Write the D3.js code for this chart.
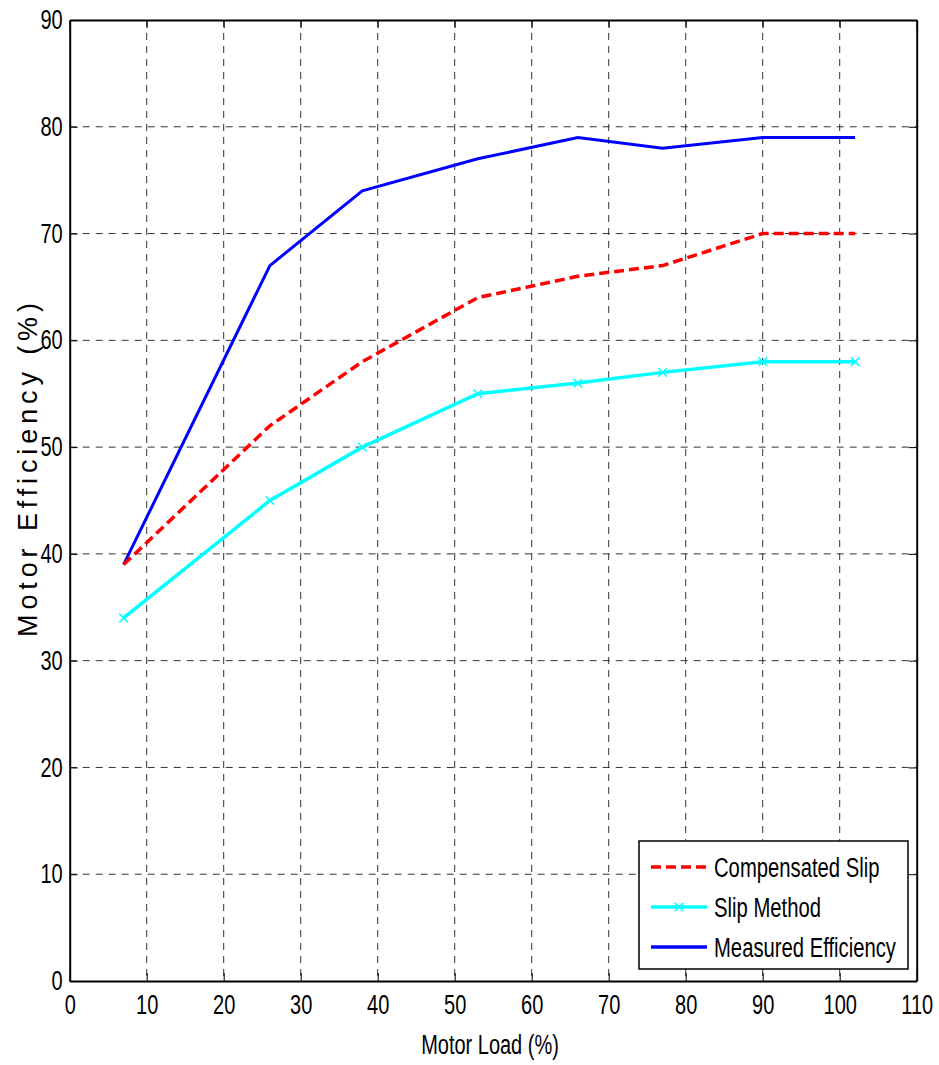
<!DOCTYPE html>
<html>
<head>
<meta charset="utf-8">
<script src="https://cdn.jsdelivr.net/npm/d3@7"></script>
<style>
  body { margin: 0; background: #fff; }
  text { font-family: "Liberation Sans", Arial, sans-serif; fill: #000; }
</style>
</head>
<body>
<svg id="chart" width="939" height="1065"></svg>
<script>
// DATA
var loads = [7, 26, 38, 53, 66, 77, 90, 102];
var compensatedSlip = [39, 52, 58, 64, 66, 67, 70, 70];
var slipMethod = [34, 45, 50, 55, 56, 57, 58, 58];
var measuredEff = [39, 67, 74, 77, 79, 78, 79, 79];
var xTicks = [0, 10, 20, 30, 40, 50, 60, 70, 80, 90, 100, 110];
var yTicks = [0, 10, 20, 30, 40, 50, 60, 70, 80, 90];

var svg = d3.select('#chart');
var mLeft = 69.7, mRight = 916.7, mTop = 20, mBottom = 981;

var x = d3.scaleLinear().domain([0, 110]).range([mLeft, mRight]);
var y = d3.scaleLinear().domain([0, 90]).range([mBottom, mTop]);

// squeeze text horizontally to mimic the narrow matlab font
function narrow(sel, k) {
    sel.each(function() {
        var w = this.getComputedTextLength();
        d3.select(this).attr('textLength', w * k).attr('lengthAdjust', 'spacingAndGlyphs');
    });
}

// Grid
svg.append('g').selectAll('line')
   .data(xTicks.slice(1, -1))
   .join('line')
   .attr('x1', d => x(d)).attr('x2', d => x(d))
   .attr('y1', mTop).attr('y2', mBottom)
   .style('stroke', '#333').style('stroke-width', 1)
   .style('stroke-dasharray', '7,6');
svg.append('g').selectAll('line')
   .data(yTicks.slice(1, -1))
   .join('line')
   .attr('x1', mLeft).attr('x2', mRight)
   .attr('y1', d => y(d)).attr('y2', d => y(d))
   .style('stroke', '#333').style('stroke-width', 1)
   .style('stroke-dasharray', '7,6');

// Axes (ticks inward on all sides)
var fmt = d3.format('d');
var gB = svg.append('g').attr('transform', 'translate(0,' + mBottom + ')')
   .call(d3.axisBottom(x).tickValues(xTicks).tickSizeInner(-8).tickSizeOuter(0).tickPadding(14).tickFormat(fmt));
var gT = svg.append('g').attr('transform', 'translate(0,' + mTop + ')')
   .call(d3.axisTop(x).tickValues(xTicks).tickSizeInner(-8).tickSizeOuter(0).tickFormat(''));
var gL = svg.append('g').attr('transform', 'translate(' + mLeft + ',0)')
   .call(d3.axisLeft(y).tickValues(yTicks).tickSizeInner(-8).tickSizeOuter(0).tickPadding(7).tickFormat(fmt));
var gR = svg.append('g').attr('transform', 'translate(' + mRight + ',0)')
   .call(d3.axisRight(y).tickValues(yTicks).tickSizeInner(-8).tickSizeOuter(0).tickFormat(''));
[gB, gT, gL, gR].forEach(function(g) {
    g.select('.domain').style('stroke', '#000').style('stroke-width', 2);
    g.selectAll('.tick line').style('stroke', '#000').style('stroke-width', 1);
    g.selectAll('.tick text').style('font-size', '27px')
     .style('font-family', '"Liberation Sans", Arial, sans-serif')
     .call(narrow, 0.74);
});

// Lines
var line = d3.line().x(d => x(d[0])).y(d => y(d[1]));
function pairs(vals) { return loads.map((l, i) => [l, vals[i]]); }

svg.append('path').datum(pairs(measuredEff)).attr('d', line)
   .style('fill', 'none').style('stroke', '#0000ff').style('stroke-width', 3);
svg.append('path').datum(pairs(compensatedSlip)).attr('d', line)
   .style('fill', 'none').style('stroke', '#ff0000').style('stroke-width', 3.5)
   .style('stroke-dasharray', '10,5');
svg.append('path').datum(pairs(slipMethod)).attr('d', line)
   .style('fill', 'none').style('stroke', '#00ffff').style('stroke-width', 3.5);

// Slip markers
var star = d3.symbol().type(d3.symbolTimes).size(50);
svg.append('g').selectAll('path')
   .data(pairs(slipMethod))
   .join('path')
   .attr('d', star)
   .attr('transform', d => 'translate(' + x(d[0]) + ',' + y(d[1]) + ')')
   .style('fill', '#00ffff').style('stroke', '#00ffff').style('stroke-width', 1.5);

// Axis labels
svg.append('text')
   .attr('x', 490).attr('y', 1054)
   .attr('text-anchor', 'middle')
   .style('font-size', '27px')
   .text('Motor Load (%)')
   .call(narrow, 0.74);
svg.append('text')
   .attr('transform', 'translate(37,470) rotate(-90)')
   .attr('text-anchor', 'middle')
   .style('font-size', '27px')
   .attr('textLength', 334).attr('lengthAdjust', 'spacing')
   .text('Motor Efficiency  (%)');

// Legend
var legendItems = [
    {name: 'Compensated Slip', color: '#ff0000', dash: '10,5', marker: false},
    {name: 'Slip Method', color: '#00ffff', dash: null, marker: true},
    {name: 'Measured Efficiency', color: '#0000ff', dash: null, marker: false}
];
var lg = svg.append('g').attr('transform', 'translate(639,841)');
lg.append('rect').attr('width', 269).attr('height', 128)
  .style('fill', '#fff').style('stroke', '#000').style('stroke-width', 1.5);
legendItems.forEach(function(it, i) {
    var yy = 26 + i * 40;
    lg.append('line').attr('x1', 12).attr('x2', 68).attr('y1', yy).attr('y2', yy)
      .style('stroke', it.color).style('stroke-width', 3.5)
      .style('stroke-dasharray', it.dash);
    if (it.marker) {
        lg.append('path').attr('d', star).attr('transform', 'translate(40,' + yy + ')')
          .style('fill', it.color).style('stroke', it.color).style('stroke-width', 1.5);
    }
    lg.append('text').attr('x', 75).attr('y', yy + 10)
      .style('font-size', '27px').text(it.name)
      .call(narrow, 0.75);
});
</script>
</body>
</html>
